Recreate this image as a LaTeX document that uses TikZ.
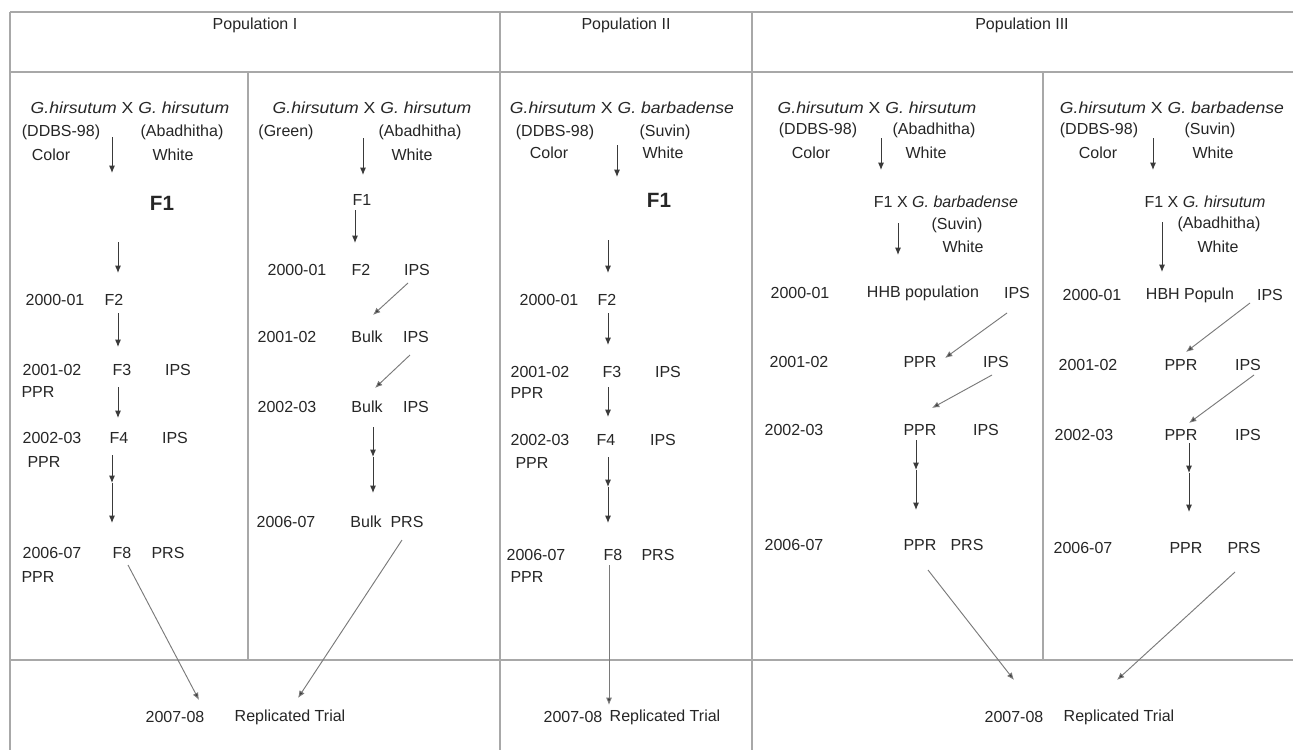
\documentclass[tikz,border=0pt]{standalone}
\usepackage{fontspec}
\usepackage{graphicx}
\setmainfont{Liberation Sans}
\usetikzlibrary{arrows.meta}
\definecolor{txt}{HTML}{262626}
\definecolor{gridc}{HTML}{A8A8A8}
\definecolor{arrc}{HTML}{3A3A3A}
\definecolor{diagc}{HTML}{7A7A7A}
\newcommand\fs{\fontsize{12}{14}\selectfont}
\newcommand\spc[1]{\scalebox{1.1}[1]{#1}}
\begin{document}
\begin{tikzpicture}[x=0.75pt,y=-0.75pt,
  every node/.style={font=\fs, text=txt, inner sep=0pt},
  bigf/.style={font=\fontsize{15.5}{17}\selectfont\bfseries},
  gridline/.style={draw=gridc, line width=1.4pt},
  arr/.style={draw=arrc, line width=0.7pt, -{Latex[length=5.5pt,width=4.5pt]}},
  darr/.style={draw=diagc, line width=0.7pt, -{Latex[length=5.5pt,width=4.5pt,fill=arrc]}}]
\useasboundingbox (0,0) rectangle (1293,750);
\fill[white] (0,0) rectangle (1293,750);
% grid
\draw[gridline] (10,12) -- (1293,12);
\draw[gridline] (10,72) -- (1293,72);
\draw[gridline] (10,660) -- (1293,660);
\draw[gridline] (10,12) -- (10,750);
\draw[gridline] (500,12) -- (500,750);
\draw[gridline] (752,12) -- (752,750);
\draw[gridline] (248,72) -- (248,660);
\draw[gridline] (1043,72) -- (1043,660);
% headers
\node (P1) at (255,25) {Population I};
\node (P2) at (626,25) {Population II};
\node (P3) at (1022,25) {Population III};

% ===== Population I left =====
\node (Asp) at (130,108) {\spc{\textit{G.hirsutum} X \textit{G. hirsutum}}};
\node (Ap1) at (61,132) {(DDBS-98)};
\node (Ap2) at (182,132) {(Abadhitha)};
\node (Ac1) at (51,155) {Color};
\node (Ac2) at (173,155) {White};
\node[bigf] (AF1) at (162,203) {F1};
\node (Ay1) at (55,300) {2000-01};
\node (Ag1) at (114,300) {F2};
\node (Ay2) at (52,370) {2001-02};
\node (Ag2) at (122,370) {F3};
\node (Ai2) at (178,370) {IPS};
\node (Ar2) at (38,392) {PPR};
\node (Ay3) at (52,438) {2002-03};
\node (Ag3) at (119,438) {F4};
\node (Ai3) at (175,438) {IPS};
\node (Ar3) at (44,462) {PPR};
\node (Ay4) at (52,553) {2006-07};
\node (Ag4) at (122,553) {F8};
\node (As4) at (168,553) {PRS};
\node (Ar4) at (38,577) {PPR};
\node (Aby) at (175,717) {2007-08};
\node (Abt) at (290,717) {Replicated Trial};
\coordinate (a1s) at (112,137); \coordinate (a1e) at (112,173);
\coordinate (a2s) at (118,242); \coordinate (a2e) at (118,273);
\coordinate (a3s) at (118,313); \coordinate (a3e) at (118,347);
\coordinate (a4s) at (118,387); \coordinate (a4e) at (118,418);
\coordinate (a5s) at (112,455); \coordinate (a5m) at (112,483); \coordinate (a5e) at (112,523);
\coordinate (a6s) at (128,565); \coordinate (a6e) at (199,700);
\draw[arr] (a1s) -- (a1e);
\draw[arr] (a2s) -- (a2e);
\draw[arr] (a3s) -- (a3e);
\draw[arr] (a4s) -- (a4e);
\draw[arr] (a5s) -- (a5m);
\draw[arr] (a5m) -- (a5e);
\draw[darr] (a6s) -- (a6e);

% ===== Population I right =====
\node (Bsp) at (372,108) {\spc{\textit{G.hirsutum} X \textit{G. hirsutum}}};
\node (Bp1) at (286,132) {(Green)};
\node (Bp2) at (420,132) {(Abadhitha)};
\node (Bc2) at (412,155) {White};
\node (BF1) at (362,200) {F1};
\node (By1) at (297,270) {2000-01};
\node (Bg1) at (361,270) {F2};
\node (Bi1) at (417,270) {IPS};
\node (By2) at (287,337) {2001-02};
\node (Bg2) at (367,337) {Bulk};
\node (Bi2) at (416,337) {IPS};
\node (By3) at (287,407) {2002-03};
\node (Bg3) at (367,407) {Bulk};
\node (Bi3) at (416,407) {IPS};
\node (By4) at (286,522) {2006-07};
\node (Bg4) at (366,522) {Bulk};
\node (Bs4) at (407,522) {PRS};
\coordinate (b1s) at (363,138); \coordinate (b1e) at (363,175);
\coordinate (b2s) at (355,210); \coordinate (b2e) at (355,243);
\coordinate (b3s) at (408,283); \coordinate (b3e) at (373,315);
\coordinate (b4s) at (410,355); \coordinate (b4e) at (375,388);
\coordinate (b5s) at (373,427); \coordinate (b5m) at (373,457); \coordinate (b5e) at (373,493);
\coordinate (b6s) at (402,540); \coordinate (b6e) at (298,698);
\draw[arr] (b1s) -- (b1e);
\draw[arr] (b2s) -- (b2e);
\draw[darr] (b3s) -- (b3e);
\draw[darr] (b4s) -- (b4e);
\draw[arr] (b5s) -- (b5m);
\draw[arr] (b5m) -- (b5e);
\draw[darr] (b6s) -- (b6e);

% ===== Population II =====
\node (Csp) at (622,108) {\spc{\textit{G.hirsutum} X \textit{G. barbadense}}};
\node (Cp1) at (555,132) {(DDBS-98)};
\node (Cp2) at (665,132) {(Suvin)};
\node (Cc1) at (549,153) {Color};
\node (Cc2) at (663,153) {White};
\node[bigf] (CF1) at (659,200) {F1};
\node (Cy1) at (549,300) {2000-01};
\node (Cg1) at (607,300) {F2};
\node (Cy2) at (540,372) {2001-02};
\node (Cg2) at (612,372) {F3};
\node (Ci2) at (668,372) {IPS};
\node (Cr2) at (527,393) {PPR};
\node (Cy3) at (540,440) {2002-03};
\node (Cg3) at (606,440) {F4};
\node (Ci3) at (663,440) {IPS};
\node (Cr3) at (532,463) {PPR};
\node (Cy4) at (536,555) {2006-07};
\node (Cg4) at (613,555) {F8};
\node (Cs4) at (658,555) {PRS};
\node (Cr4) at (527,577) {PPR};
\node (Cby) at (573,717) {2007-08};
\node (Cbt) at (665,717) {Replicated Trial};
\coordinate (c1s) at (617,145); \coordinate (c1e) at (617,177);
\coordinate (c2s) at (608,240); \coordinate (c2e) at (608,273);
\coordinate (c3s) at (608,313); \coordinate (c3e) at (608,345);
\coordinate (c4s) at (608,387); \coordinate (c4e) at (608,417);
\coordinate (c5s) at (608,457); \coordinate (c5m) at (608,487); \coordinate (c5e) at (608,523);
\coordinate (c6s) at (609,565); \coordinate (c6e) at (609,705);
\draw[arr] (c1s) -- (c1e);
\draw[arr] (c2s) -- (c2e);
\draw[arr] (c3s) -- (c3e);
\draw[arr] (c4s) -- (c4e);
\draw[arr] (c5s) -- (c5m);
\draw[arr] (c5m) -- (c5e);
\draw[darr] (c6s) -- (c6e);

% ===== Population III left =====
\node (Dsp) at (877,108) {\spc{\textit{G.hirsutum} X \textit{G. hirsutum}}};
\node (Dp1) at (818,130) {(DDBS-98)};
\node (Dp2) at (934,130) {(Abadhitha)};
\node (Dc1) at (811,153) {Color};
\node (Dc2) at (926,153) {White};
\node (Dx) at (946,202) {F1 X \textit{G. barbadense}};
\node (Dxp) at (957,225) {(Suvin)};
\node (Dxw) at (963,247) {White};
\node (Dy1) at (800,293) {2000-01};
\node (Dg1) at (923,293) {HHB population};
\node (Di1) at (1017,293) {IPS};
\node (Dy2) at (799,362) {2001-02};
\node (Dg2) at (920,362) {PPR};
\node (Di2) at (996,362) {IPS};
\node (Dy3) at (794,430) {2002-03};
\node (Dg3) at (920,430) {PPR};
\node (Di3) at (986,430) {IPS};
\node (Dy4) at (794,545) {2006-07};
\node (Dg4) at (920,545) {PPR};
\node (Ds4) at (967,545) {PRS};
\node (Dby) at (1014,717) {2007-08};
\node (Dbt) at (1119,717) {Replicated Trial};
\coordinate (d1s) at (881,138); \coordinate (d1e) at (881,170);
\coordinate (d2s) at (898,223); \coordinate (d2e) at (898,255);
\coordinate (d3s) at (1007,313); \coordinate (d3e) at (945,358);
\coordinate (d4s) at (992,375); \coordinate (d4e) at (932,408);
\coordinate (d5s) at (916,440); \coordinate (d5m) at (916,470); \coordinate (d5e) at (916,510);
\coordinate (d6s) at (928,570); \coordinate (d6e) at (1014,680);
\draw[arr] (d1s) -- (d1e);
\draw[arr] (d2s) -- (d2e);
\draw[darr] (d3s) -- (d3e);
\draw[darr] (d4s) -- (d4e);
\draw[arr] (d5s) -- (d5m);
\draw[arr] (d5m) -- (d5e);
\draw[darr] (d6s) -- (d6e);

% ===== Population III right =====
\node (Esp) at (1172,108) {\spc{\textit{G.hirsutum} X \textit{G. barbadense}}};
\node (Ep1) at (1099,130) {(DDBS-98)};
\node (Ep2) at (1210,130) {(Suvin)};
\node (Ec1) at (1098,153) {Color};
\node (Ec2) at (1213,153) {White};
\node (Ex) at (1205,202) {F1 X \textit{G. hirsutum}};
\node (Exp) at (1219,224) {(Abadhitha)};
\node (Exw) at (1218,247) {White};
\node (Ey1) at (1092,295) {2000-01};
\node (Eg1) at (1190,295) {HBH Populn};
\node (Ei1) at (1270,295) {IPS};
\node (Ey2) at (1088,365) {2001-02};
\node (Eg2) at (1181,365) {PPR};
\node (Ei2) at (1248,365) {IPS};
\node (Ey3) at (1084,435) {2002-03};
\node (Eg3) at (1181,435) {PPR};
\node (Ei3) at (1248,435) {IPS};
\node (Ey4) at (1083,548) {2006-07};
\node (Eg4) at (1186,548) {PPR};
\node (Es4) at (1244,548) {PRS};
\coordinate (e1s) at (1153,138); \coordinate (e1e) at (1153,170);
\coordinate (e2s) at (1162,222); \coordinate (e2e) at (1162,272);
\coordinate (e3s) at (1250,303); \coordinate (e3e) at (1186,352);
\coordinate (e4s) at (1254,375); \coordinate (e4e) at (1189,423);
\coordinate (e5s) at (1189,443); \coordinate (e5m) at (1189,473); \coordinate (e5e) at (1189,512);
\coordinate (e6s) at (1235,572); \coordinate (e6e) at (1117,680);
\draw[arr] (e1s) -- (e1e);
\draw[arr] (e2s) -- (e2e);
\draw[darr] (e3s) -- (e3e);
\draw[darr] (e4s) -- (e4e);
\draw[arr] (e5s) -- (e5m);
\draw[arr] (e5m) -- (e5e);
\draw[darr] (e6s) -- (e6e);
\end{tikzpicture}
\end{document}
